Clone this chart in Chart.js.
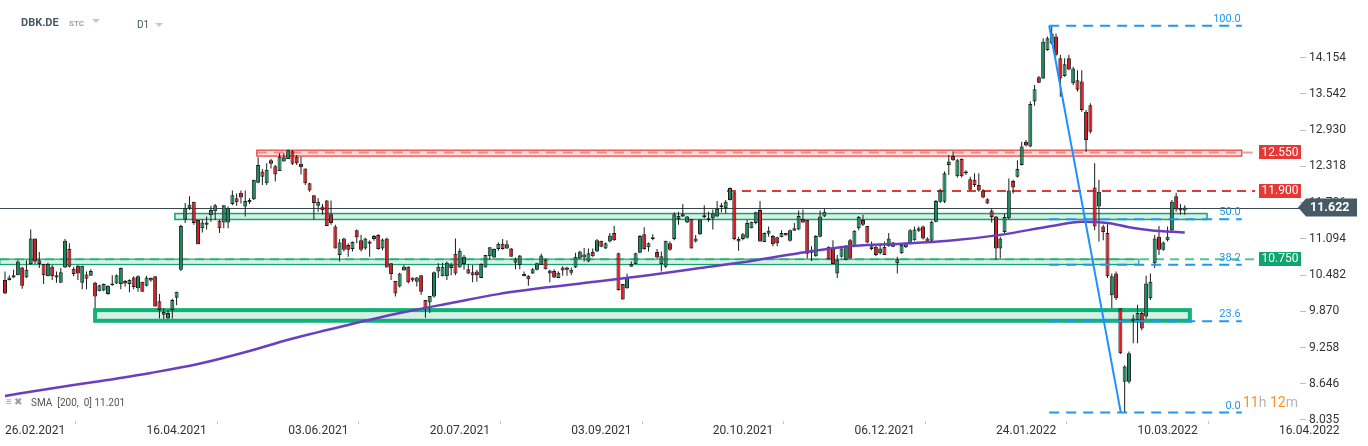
<!DOCTYPE html>
<html><head><meta charset="utf-8">
<script src="https://cdn.jsdelivr.net/npm/chart.js@4.4.1/dist/chart.umd.min.js"></script>
<style>
html,body{margin:0;padding:0;background:#fff;}
#wrap{position:relative;width:1368px;height:446px;overflow:hidden;font-family:Roboto,sans-serif;}
#c{position:absolute;left:0;top:0;}
.t{position:absolute;white-space:pre;line-height:1;}
.tri{position:absolute;width:0;height:0;border-left:4px solid transparent;border-right:4px solid transparent;border-top:4px solid #c9c9c9;}
</style></head><body>
<div id="wrap">
<canvas id="c" width="1368" height="446"></canvas>
<div class="t" style="left:21px;top:17px;font-size:11px;font-weight:700;color:#455a64;">DBK.DE</div>
<div class="t" style="left:69px;top:20px;font-size:8px;font-weight:700;color:#90a4ae;">STC</div>
<div class="tri" style="left:92px;top:19px;"></div>
<div class="t" style="left:137px;top:20px;font-size:10px;color:#455a64;">D1</div>
<div class="tri" style="left:155px;top:23px;"></div>
<div class="t" style="left:6px;top:397px;font-size:10px;color:#9e9e9e;">≡ ✖</div>
<div class="t" style="left:31px;top:398px;font-size:10px;color:#555;">SMA  [200,  0] 11.201</div>
<div class="t" style="left:1243px;top:395px;font-size:14px;"><span style="color:#f7941d">11</span><span style="color:#b5b5b5">h </span><span style="color:#f7941d">12</span><span style="color:#b5b5b5">m</span></div>
</div>
<script>
// ---- data ----
const opens = [
10.40,10.40,10.44,10.48,10.61,10.44,10.67,11.10,10.73,10.67,
10.46,10.62,10.48,10.35,10.61,10.92,10.59,10.64,10.35,10.49,
10.47,10.35,10.21,10.22,10.16,10.34,10.34,10.33,10.38,10.33,
10.44,10.26,10.37,10.30,10.43,10.46,10.04,9.81,9.75,9.89,
10.10,10.57,11.42,11.61,11.72,11.41,11.27,11.33,11.49,11.56,
11.40,11.37,11.37,11.68,11.78,11.87,11.64,11.71,11.76,12.04,
12.23,12.03,12.42,12.32,12.24,12.40,12.44,12.57,12.48,12.36,
12.28,12.03,11.83,11.65,11.64,11.74,11.51,11.30,10.82,11.10,
10.99,10.92,11.24,11.07,10.93,11.05,11.09,11.16,10.93,11.10,
10.68,10.38,10.29,10.56,10.62,10.44,10.37,10.48,10.06,10.02,
10.12,10.54,10.46,10.46,10.60,10.84,10.61,10.67,10.58,10.53,
10.54,10.43,10.61,10.80,10.78,10.92,11.01,10.93,10.93,10.75,
10.65,10.50,10.47,10.51,10.57,10.65,10.74,10.56,10.55,10.43,
10.61,10.61,10.52,10.61,10.76,10.78,10.71,10.87,10.88,11.06,
10.93,11.05,11.19,10.85,10.33,10.26,10.62,10.67,10.86,11.17,
10.95,11.12,10.87,10.67,10.62,11.02,11.09,11.43,11.47,11.37,
11.43,11.05,11.17,11.49,11.41,11.44,11.47,11.63,11.61,11.75,
11.88,11.09,11.09,11.11,11.27,11.36,11.58,11.04,11.18,11.14,
11.12,11.12,11.19,11.06,11.23,11.25,11.43,11.41,10.86,10.80,
11.13,11.47,10.96,10.93,10.51,10.79,10.74,11.07,10.97,11.27,
11.41,11.31,10.97,10.96,10.85,10.96,10.97,10.96,10.68,10.85,
10.95,11.02,11.07,11.27,11.30,11.10,11.06,11.38,11.72,11.72,
12.34,12.49,12.15,12.44,12.20,12.10,12.09,12.00,11.91,11.76,
11.57,11.47,10.93,11.21,11.44,12.07,12.14,12.34,12.73,12.65,
13.41,13.82,13.80,14.28,14.39,14.51,14.14,13.84,14.14,13.72,
13.77,13.75,13.24,13.35,11.96,11.64,11.30,11.19,10.14,10.51,
9.92,8.68,8.68,9.75,9.72,9.84,9.78,10.09,10.68,11.13,
10.91,11.07,11.24,11.81,11.57,11.57];
const highs = [
10.54,10.48,10.57,10.73,10.62,10.73,11.25,11.10,10.87,10.67,
10.69,10.65,10.54,10.60,11.09,11.02,10.62,10.65,10.64,10.54,
10.58,10.37,10.32,10.34,10.31,10.48,10.49,10.61,10.40,10.41,
10.46,10.48,10.37,10.47,10.44,10.46,10.16,9.92,9.89,10.08,
10.20,11.33,11.70,11.81,11.72,11.41,11.42,11.47,11.65,11.68,
11.41,11.66,11.64,11.91,11.86,11.91,11.91,11.78,12.09,12.47,
12.27,12.37,12.44,12.34,12.54,12.54,12.60,12.59,12.51,12.48,
12.28,12.04,11.83,11.78,11.68,11.75,11.74,11.33,11.09,11.11,
11.02,11.05,11.25,11.16,11.11,11.07,11.16,11.17,11.10,11.11,
10.68,10.38,10.52,10.65,10.63,10.44,10.45,10.48,10.06,10.13,
10.54,10.68,10.69,10.71,10.69,11.10,10.93,10.82,10.67,10.65,
10.57,10.68,10.82,10.95,10.93,11.03,11.09,11.07,10.94,10.78,
10.82,10.54,10.48,10.60,10.69,10.84,10.76,10.57,10.58,10.54,
10.63,10.62,10.61,10.86,10.89,10.94,10.93,10.93,11.09,11.06,
11.03,11.19,11.31,10.86,10.33,10.51,10.71,10.86,11.16,11.29,
11.03,11.17,10.92,10.88,11.06,11.05,11.54,11.55,11.68,11.48,
11.43,11.16,11.42,11.66,11.55,11.59,11.73,11.70,11.75,11.96,
11.89,11.13,11.19,11.41,11.38,11.55,11.73,11.20,11.30,11.16,
11.13,11.24,11.19,11.25,11.36,11.57,11.59,11.41,10.97,11.16,
11.57,11.60,10.97,11.07,10.82,10.95,10.99,11.09,11.24,11.48,
11.50,11.31,11.05,10.99,11.02,11.05,11.19,11.04,10.79,11.00,
11.02,11.26,11.30,11.30,11.32,11.12,11.40,11.75,11.94,12.23,
12.51,12.57,12.44,12.45,12.25,12.14,12.20,12.20,11.93,11.78,
11.61,11.48,11.13,11.52,12.11,12.09,12.42,12.73,12.76,13.41,
13.69,13.84,14.48,14.51,14.69,14.56,14.20,14.14,14.20,14.00,
13.94,13.94,13.27,13.38,12.37,12.09,11.33,11.34,10.51,10.54,
9.92,8.96,9.19,9.81,9.98,9.86,10.47,10.51,11.16,11.31,
11.05,11.30,11.75,11.87,11.68,11.66];
const lows = [
10.16,10.39,10.43,10.48,10.25,10.43,10.65,10.67,10.60,10.33,
10.46,10.40,10.35,10.35,10.60,10.61,10.46,10.40,10.24,10.24,
10.47,9.92,10.21,10.21,10.15,10.30,10.33,10.24,10.29,10.19,
10.24,10.20,10.20,10.29,10.37,9.95,9.75,9.74,9.74,9.75,
9.97,10.55,11.36,11.58,11.33,11.00,11.20,11.25,11.38,11.41,
11.19,11.27,11.27,11.66,11.65,11.69,11.47,11.68,11.75,12.03,
12.00,12.00,12.28,12.06,12.24,12.40,12.44,12.34,12.34,12.18,
12.00,11.89,11.42,11.55,11.50,11.31,11.33,10.93,10.71,10.88,
10.79,10.88,11.02,10.88,10.91,10.79,11.06,10.91,10.90,10.61,
10.40,10.12,10.27,10.56,10.34,10.37,10.29,10.15,9.76,9.84,
10.10,10.43,10.46,10.40,10.48,10.48,10.61,10.57,10.50,10.36,
10.37,10.43,10.61,10.74,10.76,10.89,10.91,10.92,10.79,10.58,
10.58,10.46,10.30,10.50,10.56,10.65,10.58,10.36,10.43,10.43,
10.47,10.47,10.48,10.60,10.75,10.71,10.70,10.79,10.87,10.95,
10.92,11.03,11.06,10.22,10.07,10.25,10.62,10.67,10.85,10.91,
10.88,11.07,10.76,10.54,10.60,10.89,11.07,11.33,11.46,11.36,
10.93,11.03,11.16,11.44,11.38,11.25,11.46,11.54,11.52,11.74,
11.07,10.89,11.07,11.10,11.27,11.34,11.04,11.04,11.13,10.97,
10.97,11.12,11.15,11.05,11.23,11.24,11.36,10.76,10.72,10.79,
11.12,11.46,10.75,10.67,10.43,10.78,10.73,10.75,10.96,11.24,
11.31,11.02,10.90,10.80,10.83,10.82,10.96,10.95,10.51,10.84,
10.94,11.00,11.06,11.21,11.08,11.03,11.05,11.37,11.70,11.70,
12.17,12.41,12.13,12.13,12.17,11.91,11.97,11.89,11.78,11.68,
11.37,10.74,10.76,11.19,11.42,11.86,12.13,12.33,12.65,12.64,
13.34,13.72,13.79,14.27,14.37,14.17,13.49,13.83,13.94,13.69,
13.58,13.24,12.56,12.87,11.24,11.05,11.07,10.43,9.92,10.06,
9.15,8.16,8.65,9.33,9.33,9.55,9.75,10.06,10.60,10.82,
10.89,11.05,11.23,11.55,11.50,11.50];
const closes = [
10.17,10.44,10.48,10.71,10.30,10.57,11.10,10.71,10.67,10.48,
10.67,10.46,10.44,10.53,11.06,10.62,10.50,10.51,10.64,10.42,
10.55,10.12,10.31,10.33,10.30,10.31,10.48,10.60,10.34,10.40,
10.28,10.46,10.20,10.44,10.39,9.95,9.89,9.86,9.84,10.06,
10.20,11.31,11.61,11.67,11.36,11.00,11.37,11.37,11.58,11.66,
11.27,11.66,11.61,11.83,11.71,11.79,11.73,11.75,12.09,12.34,
12.14,12.26,12.36,12.18,12.48,12.47,12.59,12.36,12.37,12.30,
12.03,11.91,11.70,11.72,11.58,11.31,11.36,10.93,11.03,10.91,
10.91,11.04,11.12,10.91,11.10,11.01,11.14,10.92,11.08,10.61,
10.50,10.17,10.51,10.62,10.36,10.39,10.44,10.20,9.92,10.13,
10.53,10.62,10.62,10.69,10.65,10.51,10.89,10.79,10.51,10.48,
10.48,10.67,10.82,10.95,10.92,11.01,10.92,11.00,10.79,10.69,
10.81,10.46,10.41,10.58,10.68,10.81,10.58,10.51,10.44,10.52,
10.56,10.57,10.57,10.79,10.88,10.83,10.85,10.80,11.07,10.96,
11.02,11.15,11.07,10.23,10.07,10.44,10.67,10.85,11.14,10.92,
11.02,11.09,10.78,10.80,11.06,10.91,11.51,11.48,11.51,11.47,
10.93,11.10,11.42,11.46,11.44,11.52,11.60,11.66,11.72,11.95,
11.09,11.05,11.17,11.36,11.38,11.54,11.05,11.19,11.23,11.00,
11.02,11.19,11.15,11.24,11.27,11.48,11.37,10.84,10.90,11.14,
11.47,11.55,10.75,10.67,10.74,10.93,10.97,10.76,11.23,11.46,
11.33,11.03,10.92,10.82,10.93,10.82,11.10,11.03,10.75,10.99,
11.00,11.24,11.25,11.23,11.10,11.05,11.38,11.73,11.91,12.20,
12.40,12.42,12.42,12.15,12.23,11.92,12.00,11.91,11.79,11.69,
11.46,10.93,11.10,11.46,11.91,11.96,12.27,12.65,12.67,13.37,
13.62,13.73,14.42,14.48,14.56,14.20,13.80,14.04,13.95,13.97,
13.61,13.27,12.76,12.90,11.30,11.89,11.21,10.46,10.46,10.09,
9.16,8.94,9.16,9.70,9.84,9.58,10.34,10.37,11.10,10.91,
11.03,11.13,11.72,11.59,11.61,11.622];

// SMA(200) read at sample bars
const smaIdx  = [0,10,22,34,45,57,66,80,92,104,115,127,139,150,162,174,185,197,209,220,232,244,251,257,262,267,275];
const smaVals = [8.44,8.56,8.69,8.83,8.98,9.20,9.39,9.64,9.84,10.01,10.16,10.28,10.38,10.48,10.60,10.72,10.85,10.97,11.01,11.06,11.16,11.31,11.38,11.36,11.29,11.24,11.20];

// axis ticks
const xTickIdx    = [0,33,66,99,132,165,198,231,264,297];
const xTickLabels = ['26.02.2021','16.04.2021','03.06.2021','20.07.2021','03.09.2021','20.10.2021','06.12.2021','24.01.2022','10.03.2022','16.04.2022'];
const yTickValues = [8.035,8.646,9.258,9.870,10.482,11.094,11.706,12.318,12.930,13.542,14.154];
const yTickLabels = ['8.035','8.646','9.258','9.870','10.482','11.094','11.706','12.318','12.930','13.542','14.154'];

// drawn levels / zones (price values)
const lastPrice = 11.622;
const resistanceLevels = [12.55, 11.90];
const supportLevel = 10.75;
const zoneTops    = [12.59, 11.52, 10.75, 9.89];
const zoneBottoms = [12.49, 11.42, 10.66, 9.71];
const fibRatios = [0, 0.236, 0.382, 0.5, 1];
const fibLabels = ['0.0','23.6','38.2','50.0','100.0'];

// ---- build datasets ----
const up = closes.map((c,i)=>c>=opens[i]);
const wickData = highs.map((h,i)=>({x:i, y:[lows[i], h]}));
const bodyData = closes.map((c,i)=>({x:i, y:[Math.min(opens[i],c), Math.max(opens[i],c)]}));
const smaData = smaIdx.map((k,i)=>({x:k, y:smaVals[i]}));

let hiIdx = 0, loIdx = 0;
highs.forEach((h,i)=>{ if(h>highs[hiIdx]) hiIdx=i; });
lows.forEach((l,i)=>{ if(l<lows[loIdx]) loIdx=i; });
const fibHigh = highs[hiIdx], fibLow = lows[loIdx];

const overlay = {
  id:'overlay',
  beforeDatasetsDraw(chart){
    const {ctx, chartArea:a, scales:{x,y}} = chart;
    const X = v=>x.getPixelForValue(v), Y = v=>y.getPixelForValue(v);
    ctx.save();
    const zx = [[58.7,288.3],[39.6,280.2],[-1.2,264.3],[21,276.2]];
    const zfill = ['rgba(239,83,80,0.2)','rgba(20,170,110,0.18)','rgba(20,170,110,0.18)','rgba(20,170,110,0.18)'];
    const zstroke = ['#e53935','#17a36f','#17a36f','#10b27a'];
    const zlw = [1.2,1.5,1.2,4];
    for(let i=0;i<zoneTops.length;i++){
      const x1=X(zx[i][0]), x2=X(zx[i][1]), y1=Y(zoneTops[i]), y2=Y(zoneBottoms[i]);
      ctx.fillStyle=zfill[i]; ctx.fillRect(x1,y1,x2-x1,y2-y1);
      ctx.lineWidth=zlw[i]; ctx.strokeStyle=zstroke[i]; ctx.strokeRect(x1,y1,x2-x1,y2-y1);
    }
    ctx.lineWidth=2;
    ctx.setLineDash([10,7]);
    ctx.strokeStyle='rgba(229,57,53,0.5)';
    ctx.beginPath(); ctx.moveTo(X(58.7),Y(resistanceLevels[0])); ctx.lineTo(X(291.4),Y(resistanceLevels[0])); ctx.stroke();
    ctx.setLineDash([9,6]);
    ctx.strokeStyle='#e53935';
    ctx.beginPath(); ctx.moveTo(X(168.3),Y(resistanceLevels[1])); ctx.lineTo(X(291.4),Y(resistanceLevels[1])); ctx.stroke();
    ctx.strokeStyle='rgba(24,178,115,0.75)';
    ctx.beginPath(); ctx.moveTo(a.left,Y(supportLevel)); ctx.lineTo(X(291.4),Y(supportLevel)); ctx.stroke();
    ctx.setLineDash([]);
    ctx.lineWidth=1; ctx.strokeStyle='#37474f';
    const yp = Math.round(Y(lastPrice))+0.5;
    ctx.beginPath(); ctx.moveTo(a.left,yp); ctx.lineTo(a.right,yp); ctx.stroke();
    ctx.restore();
  },
  afterDatasetsDraw(chart){
    const {ctx, scales:{x,y}} = chart;
    const X = v=>x.getPixelForValue(v), Y = v=>y.getPixelForValue(v);
    ctx.save();
    const fx1 = X(hiIdx-0.6), fx2 = X(288.3);
    ctx.strokeStyle='#2196f3'; ctx.lineWidth=2; ctx.setLineDash([10,7]);
    fibRatios.forEach(r=>{
      const yy = Y(fibLow + r*(fibHigh-fibLow));
      ctx.beginPath(); ctx.moveTo(fx1,yy); ctx.lineTo(fx2,yy); ctx.stroke();
    });
    ctx.setLineDash([]);
    ctx.strokeStyle='#1e90ff'; ctx.lineWidth=2;
    ctx.beginPath(); ctx.moveTo(X(hiIdx-0.6),Y(fibHigh)); ctx.lineTo(X(loIdx-0.9),Y(fibLow)); ctx.stroke();
    ctx.restore();
  },
  afterDraw(chart){
    const {ctx, chartArea:a, scales:{x,y}} = chart;
    const X = v=>x.getPixelForValue(v), Y = v=>y.getPixelForValue(v);
    ctx.save();
    ctx.beginPath(); ctx.rect(0, 14, chart.width, chart.height); ctx.clip();
    ctx.font='11px Roboto'; ctx.fillStyle='#2196f3'; ctx.textAlign='right'; ctx.textBaseline='alphabetic';
    fibRatios.forEach((r,i)=>{
      const yy = Y(fibLow + r*(fibHigh-fibLow));
      ctx.fillText(fibLabels[i], X(288.3)-1, yy-4);
    });
    ctx.restore();
    ctx.save();
    const box = (val, color)=>{
      const yy = Y(val);
      ctx.fillStyle=color; ctx.fillRect(a.right-41, Math.round(yy-7.5), 42, 14);
      ctx.fillStyle='#fff'; ctx.font='12px Roboto'; ctx.textAlign='center'; ctx.textBaseline='middle';
      ctx.fillText(val.toFixed(3), a.right-20, yy);
    };
    box(resistanceLevels[0], '#e53935');
    box(resistanceLevels[1], '#e53935');
    box(supportLevel, '#10a56f');
    const yp = Y(lastPrice);
    ctx.fillStyle='#455a64';
    ctx.beginPath();
    ctx.moveTo(a.right-2, yp);
    ctx.lineTo(a.right+6, yp-9);
    ctx.lineTo(a.right+57, yp-9);
    ctx.lineTo(a.right+57, yp+9);
    ctx.lineTo(a.right+6, yp+9);
    ctx.closePath(); ctx.fill();
    ctx.fillStyle='#fff'; ctx.font='bold 12.5px Roboto'; ctx.textAlign='left'; ctx.textBaseline='middle';
    ctx.fillText(lastPrice.toFixed(3), a.right+10, yp+0.5);
    ctx.restore();
  }
};

Chart.defaults.font.family = 'Roboto';
new Chart(document.getElementById('c'), {
  type:'bar',
  data:{ datasets:[
    { type:'line', data:smaData, borderColor:'#6a3fbf', borderWidth:2.5, pointRadius:0, cubicInterpolationMode:'monotone', fill:false },
    { type:'bar', data:bodyData, grouped:false, barThickness:4, minBarLength:1, inflateAmount:0,
      backgroundColor: up.map(u=>u?'#138a5c':'#e0161e'), borderColor:'#1c1c1c', borderWidth:1, borderSkipped:false },
    { type:'bar', data:wickData, grouped:false, barThickness:1, inflateAmount:0, backgroundColor:'#1c1c1c', borderWidth:0 }
  ]},
  options:{
    responsive:false, animation:false, devicePixelRatio:1, events:[],
    layout:{padding:0},
    plugins:{legend:{display:false}, tooltip:{enabled:false}},
    scales:{
      x:{ type:'linear', offset:false, min:-1.166, max:301.87,
        grid:{drawOnChartArea:false, drawTicks:true, tickLength:3, color:'#c8c8c8'},
        border:{display:false},
        afterBuildTicks: s=>{ s.ticks = xTickIdx.map(v=>({value:v})); },
        afterFit: s=>{ s.height=25; s.paddingLeft=0; s.paddingRight=0; },
        ticks:{ align:'start', autoSkip:false, maxRotation:0, padding:0, color:'#333', font:{size:12},
          callback:(v,i)=>xTickLabels[i] }
      },
      y:{ type:'linear', position:'right', min:8.018, max:15.125,
        grid:{drawOnChartArea:false, drawTicks:true, tickLength:6, color:'#bdbdbd'},
        border:{display:false},
        afterBuildTicks: s=>{ s.ticks = yTickValues.map(v=>({value:v})); },
        afterFit: s=>{ s.width=68; s.paddingTop=0; s.paddingBottom=0; },
        ticks:{ padding:3, color:'#333', font:{size:12}, callback:(v,i)=>yTickLabels[i] }
      }
    }
  },
  plugins:[overlay]
});
</script>
</body></html>
